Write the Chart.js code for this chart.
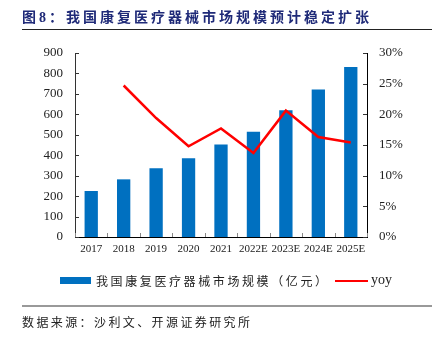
<!DOCTYPE html>
<html><head><meta charset="utf-8">
<script src="https://cdn.jsdelivr.net/npm/chart.js@4/dist/chart.umd.min.js"></script>
<style>
html,body{margin:0;padding:0;background:#fff;}
#wrap{position:relative;width:437px;height:339px;overflow:hidden;}
#c{position:absolute;left:0;top:0;}
.t{position:absolute;white-space:nowrap;}
#title{left:22px;top:6px;font:bold 14px "Liberation Serif","Noto Sans CJK SC";color:#1f2a78;letter-spacing:3px;}
#tline{position:absolute;left:22px;top:29px;width:410px;height:1px;background:#222;}
#leg1box{position:absolute;left:60px;top:277px;width:31px;height:7px;background:#0070C0;}
#leg1{left:96px;top:272px;font:12px "Noto Sans CJK SC";color:#222;letter-spacing:2.6px;}
#leg2line{position:absolute;left:335px;top:280px;width:33px;height:2px;background:#ff0000;}
#leg2{left:371px;top:272px;font:14px "Liberation Serif";color:#222;}
#sline{position:absolute;left:22px;top:305px;width:410px;height:2px;background:#999;}
#src{left:22px;top:313px;font:12px "Noto Sans CJK SC";color:#222;letter-spacing:2.4px;}
</style></head>
<body><div id="wrap">
<canvas id="c" width="437" height="339"></canvas>
<div class="t" id="title">图8：我国康复医疗器械市场规模预计稳定扩张</div>
<div id="tline"></div>
<div id="leg1box"></div><div class="t" id="leg1">我国康复医疗器械市场规模（亿元）</div>
<div id="leg2line"></div><div class="t" id="leg2">yoy</div>
<div id="sline"></div>
<div class="t" id="src">数据来源：沙利文、开源证券研究所</div>
</div>
<script>
const categories = ["2017","2018","2019","2020","2021","2022E","2023E","2024E","2025E"];
const marketSize = [225, 282, 336, 385, 453, 515, 620, 721, 832];
const yoy = [null, 24.7, 19.4, 14.8, 17.7, 13.7, 20.6, 16.3, 15.4];
const leftTicks = [0,100,200,300,400,500,600,700,800,900];
const rightTicks = [0,5,10,15,20,25,30];

const inwardTicks = {
  id:'inwardTicks',
  afterDraw(chart){
    const ctx = chart.ctx, a = chart.chartArea;
    ctx.save();
    ctx.lineWidth = 1;
    ctx.strokeStyle = '#333';
    const y = chart.scales.y, y1 = chart.scales.y1, x = chart.scales.x;
    y.ticks.forEach(t=>{const p=Math.round(y.getPixelForValue(t.value))+0.5;ctx.beginPath();ctx.moveTo(a.left,p);ctx.lineTo(a.left+4,p);ctx.stroke();});
    y1.ticks.forEach(t=>{const p=Math.round(y1.getPixelForValue(t.value))+0.5;ctx.beginPath();ctx.moveTo(a.right,p);ctx.lineTo(a.right-4,p);ctx.stroke();});
    ctx.strokeStyle = '#888';
    for(let i=0;i<=categories.length;i++){
      const px = Math.round(x.getPixelForValue(i-0.5))+0.5;
      ctx.beginPath();ctx.moveTo(px,a.bottom);ctx.lineTo(px,a.bottom-4);ctx.stroke();
    }
    ctx.restore();
  }
};

new Chart(document.getElementById('c'), {
  data:{
    labels:categories,
    datasets:[
      {type:'line',label:'yoy',data:yoy,yAxisID:'y1',borderColor:'#ff0000',backgroundColor:'#ff0000',borderWidth:2.5,pointRadius:0,tension:0,order:0},
      {type:'bar',label:'我国康复医疗器械市场规模（亿元）',data:marketSize,yAxisID:'y',backgroundColor:'#0070C0',categoryPercentage:1,barPercentage:0.41,order:1}
    ]
  },
  options:{
    responsive:false,animation:false,
    layout:{padding:{left:0,right:0,top:53,bottom:0}},
    plugins:{legend:{display:false},tooltip:{enabled:false}},
    scales:{
      x:{
        grid:{display:false,drawTicks:false},
        border:{display:true,color:'#000',width:1},
        ticks:{padding:6,color:'#222',font:{family:'Liberation Serif',size:11},maxRotation:0,autoSkip:false},
        afterFit(s){s.height=102;}
      },
      y:{
        position:'left',min:0,max:900,
        grid:{display:false,drawTicks:false},
        border:{display:true,color:'#333',width:1},
        ticks:{stepSize:100,padding:12,color:'#222',font:{family:'Liberation Serif',size:13},
          callback:(v)=>leftTicks.includes(v)?String(v):''},
        afterFit(s){s.width=75;}
      },
      y1:{
        position:'right',min:0,max:30,
        grid:{display:false,drawTicks:false},
        border:{display:true,color:'#000',width:1},
        ticks:{stepSize:5,padding:12,color:'#222',font:{family:'Liberation Serif',size:13},
          callback:(v)=>rightTicks.includes(v)?v+'%':''},
        afterFit(s){s.width=70;}
      }
    }
  },
  plugins:[inwardTicks]
});
</script>
</body></html>
